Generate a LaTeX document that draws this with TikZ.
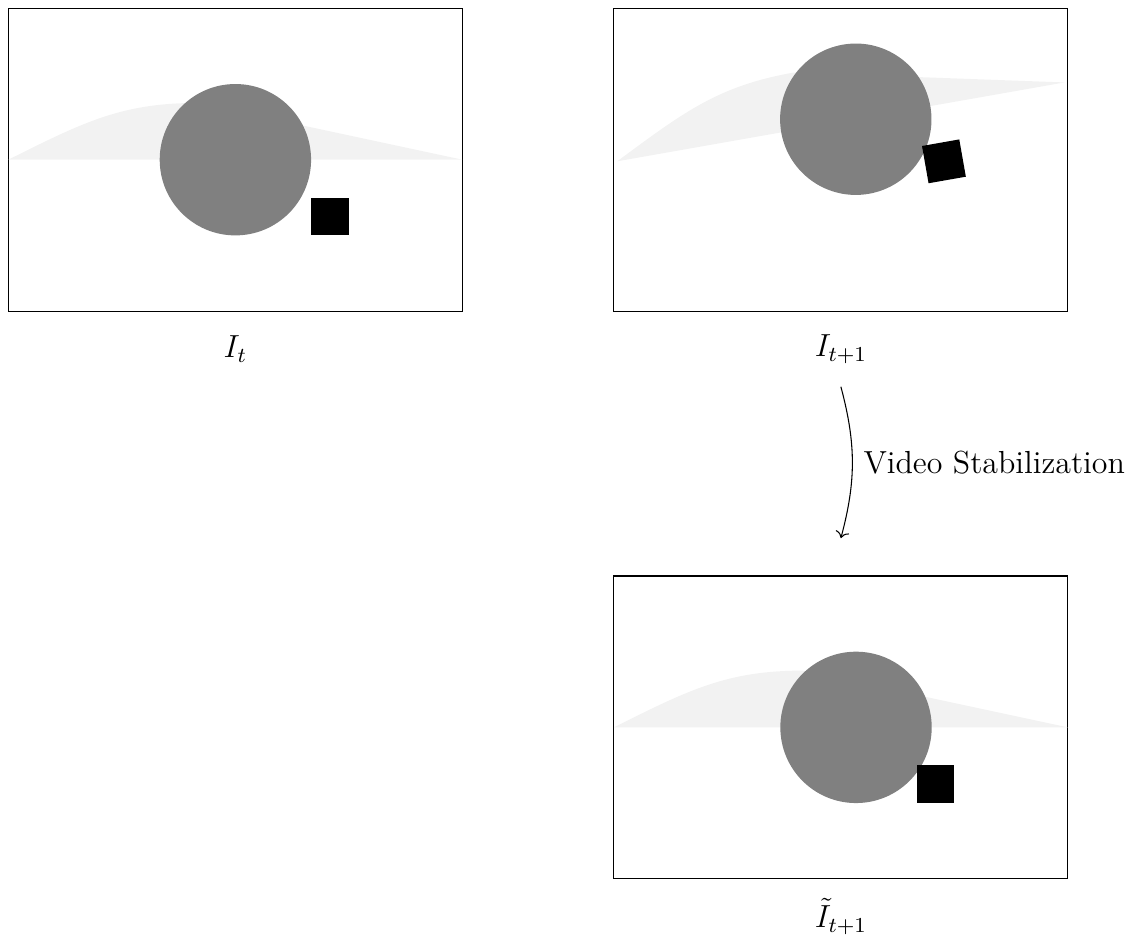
\documentclass[tikz,border=0pt,12pt]{standalone}
\usepackage{amsmath}
\usepackage{tikz}
\usetikzlibrary{positioning,arrows.meta}

\tikzset{
  hillfill/.style={fill=gray!10},
  ballfill/.style={fill=gray},
  boxfill/.style={fill=black},
}

\begin{document}
\begin{tikzpicture}
\useasboundingbox (-0.11,-8.26) rectangle (14.82,4.11);
% frame t
\draw (0,0) rectangle (6,4);
\fill[hillfill] (0,2) .. controls (1,2.5) and (1.5,2.75) .. (2.5,2.75) -- (6,2) -- cycle;
\fill[ballfill] (3,2) circle (1);
\fill[boxfill] (4,1) rectangle (4.5,1.5);
\node (lbl-t) at (3,-0.5) {$I_t$};
% frame t+1 (shaken camera)
\begin{scope}[shift={(8,0)}]
\draw (0,0) rectangle (6,4);
\begin{scope}[shift={(0,0.5)}, rotate around={10:(3,2)}]
\fill[hillfill] (0,2) .. controls (1,2.5) and (1.5,2.75) .. (2.5,2.75) -- (6,2) -- cycle;
\fill[ballfill] (3.2,2) circle (1);
\fill[boxfill] (4,1) rectangle (4.5,1.5);
\end{scope}
\node (lbl-t1) at (3,-0.5) {$I_{t+1}$};
\end{scope}
% stabilized frame
\begin{scope}[shift={(8,-7.5)}]
\draw (0,0) rectangle (6,4);
\fill[hillfill] (0,2) .. controls (1,2.5) and (1.5,2.75) .. (2.5,2.75) -- (6,2) -- cycle;
\fill[ballfill] (3.2,2) circle (1);
\fill[boxfill] (4,1) rectangle (4.5,1.5);
\node (lbl-st) at (3,-0.5) {$\tilde{I}_{t+1}$};
\end{scope}
% arrow
\coordinate (stab-from) at (11,-1);
\coordinate (stab-to) at (11,-3);
\draw[->] (stab-from) to[bend left=15] node[right] {Video Stabilization} (stab-to);
\end{tikzpicture}
\end{document}
